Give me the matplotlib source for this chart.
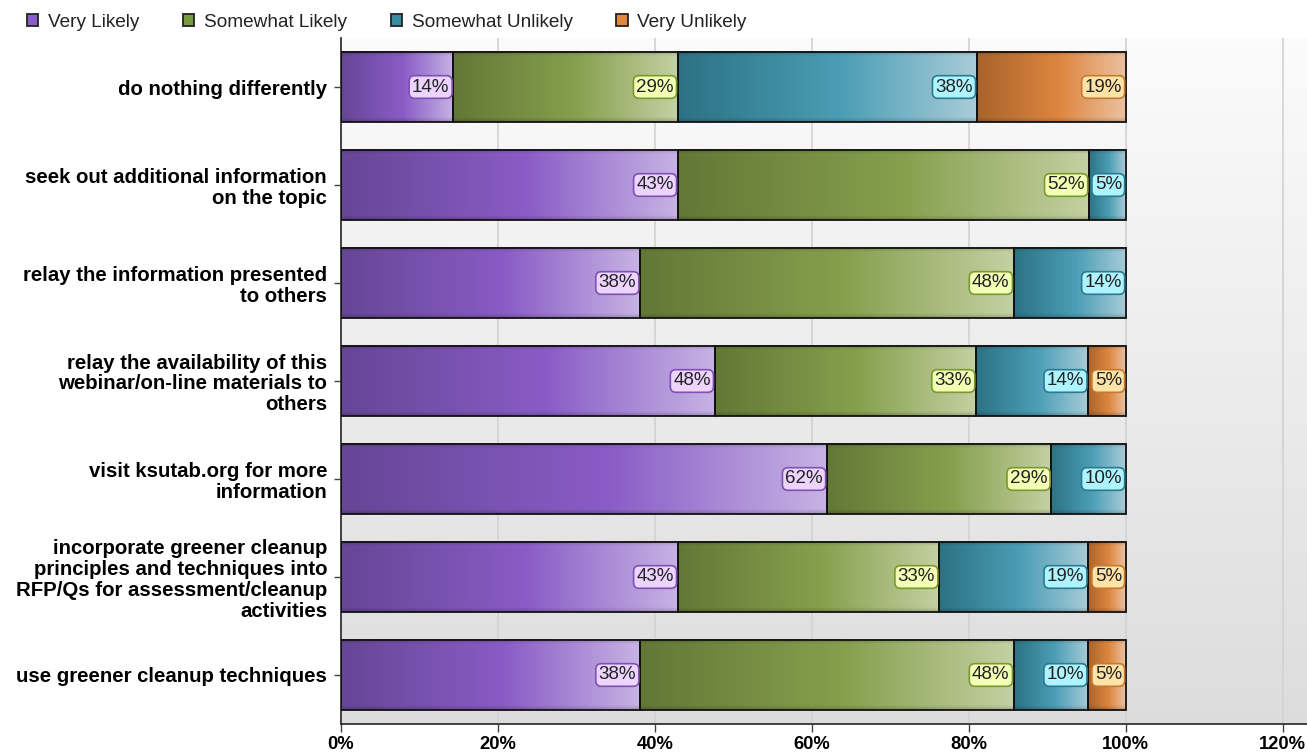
import matplotlib.pyplot as plt
import numpy as np
from matplotlib.colors import LinearSegmentedColormap
from matplotlib.patches import Patch

plt.rcParams['font.family'] = ['Liberation Sans', 'DejaVu Sans']

questions = [
    'do nothing differently',
    'seek out additional information\non the topic',
    'relay the information presented\nto others',
    'relay the availability of this\nwebinar/on-line materials to\nothers',
    'visit ksutab.org for more\ninformation',
    'incorporate greener cleanup\nprinciples and techniques into\nRFP/Qs for assessment/cleanup\nactivities',
    'use greener cleanup techniques',
]
series = ['Very Likely', 'Somewhat Likely', 'Somewhat Unlikely', 'Very Unlikely']

# percent of respondents per answer
very_likely = [14.3, 42.9, 38.1, 47.6, 61.9, 42.9, 38.1]
somewhat_likely = [28.6, 52.4, 47.6, 33.3, 28.6, 33.3, 47.6]
somewhat_unlikely = [38.1, 4.7, 14.3, 14.3, 9.5, 19.0, 9.5]
very_unlikely = [19.0, 0, 0, 4.8, 0, 4.8, 4.8]

xticks = [0, 20, 40, 60, 80, 100, 120]

# gradient stops (dark -> saturated -> pale), legend swatch, label box face / edge
grad_stops = [
    ['#664696', '#8a5cc6', '#c6b2e4'],
    ['#647836', '#86a04e', '#c4d0a2'],
    ['#2c7284', '#4c9eb6', '#a8ccd8'],
    ['#a8642c', '#de8640', '#ecc2a2'],
]
swatch = ['#8a5cc6', '#7a9a40', '#3a8aa0', '#e08840']
box_face = ['#ecd4ff', '#f2ffb4', '#aef4ff', '#ffe2a6']
box_edge = ['#8050b4', '#7a9a30', '#2a7a90', '#c47a30']

data = np.array([very_likely, somewhat_likely, somewhat_unlikely, very_unlikely])

fig = plt.figure(figsize=(13.07, 7.54), dpi=100)
ax = fig.add_axes([0.2609, 0.0398, 0.7391, 0.9098])

xmax = 123.1
n = len(questions)
bar_h = 0.72

# background: soft vertical gradient
bg = np.linspace(0.985, 0.865, 256)[:, None] * np.ones((1, 2))
ax.imshow(np.dstack([bg, bg, bg]), extent=(0, xmax, n - 0.5, -0.5),
          aspect='auto', zorder=0, interpolation='bilinear')

for x in xticks[1:]:
    ax.axvline(x, color='#d2d2d2', lw=1.2, zorder=1)

# slight darkening near top/bottom edge of each bar
vy = np.linspace(-1, 1, 60)
shade = 1 - 0.18 * np.clip((np.abs(vy) - 0.88) / 0.12, 0, 1)

for j in range(len(series)):
    cmap = LinearSegmentedColormap.from_list(series[j], [(0, grad_stops[j][0]), (0.55, grad_stops[j][1]), (1, grad_stops[j][2])])
    lefts = data[:j].sum(axis=0)
    for i in range(n):
        w = data[j, i]
        if w <= 0:
            continue
        left = lefts[i]
        row = cmap(np.linspace(0, 1, 200))[:, :3]
        img = row[None, :, :] * shade[:, None, None]
        ax.imshow(img, extent=(left, left + w, i + bar_h / 2, i - bar_h / 2),
                  aspect='auto', zorder=2, interpolation='bilinear')
        ax.barh(i, w, left=left, height=bar_h, facecolor='none',
                edgecolor='#111111', lw=1.3, zorder=3)
        ax.annotate(f'{w:.0f}%', xy=(left + w, i), xytext=(-2.8, 0),
                    textcoords='offset points', ha='right', va='center',
                    fontsize=13.5, color='#222222', zorder=5,
                    bbox=dict(boxstyle='round,pad=0.15,rounding_size=0.3',
                              fc=box_face[j], ec=box_edge[j], lw=1.2))

ax.set_xlim(0, xmax)
ax.set_ylim(n - 0.5, -0.5)
ax.set_xticks(xticks)
ax.set_xticklabels([f'{v}%' for v in xticks], fontsize=13.2, fontweight='bold')
ax.set_yticks(range(n))
ax.set_yticklabels(questions, fontsize=14.7, fontweight='bold', linespacing=1.13)
ax.tick_params(axis='x', length=6, width=1, color='#444444', pad=3)
ax.tick_params(axis='y', length=5, width=1, color='#444444', pad=5)
for s in ['top', 'right']:
    ax.spines[s].set_visible(False)
for s in ['left', 'bottom']:
    ax.spines[s].set_color('#333333')
    ax.spines[s].set_linewidth(1.3)

handles = [Patch(facecolor=swatch[j], edgecolor='#222222', lw=1.3) for j in range(len(series))]
fig.legend(handles, series, loc='upper left', bbox_to_anchor=(0.0075, 1.004),
           ncol=4, frameon=False, fontsize=13.7, handlelength=0.6,
           handleheight=0.6, handletextpad=0.5, columnspacing=2.3,
           labelcolor='#222222')

fig.savefig('out.png', dpi=100)
